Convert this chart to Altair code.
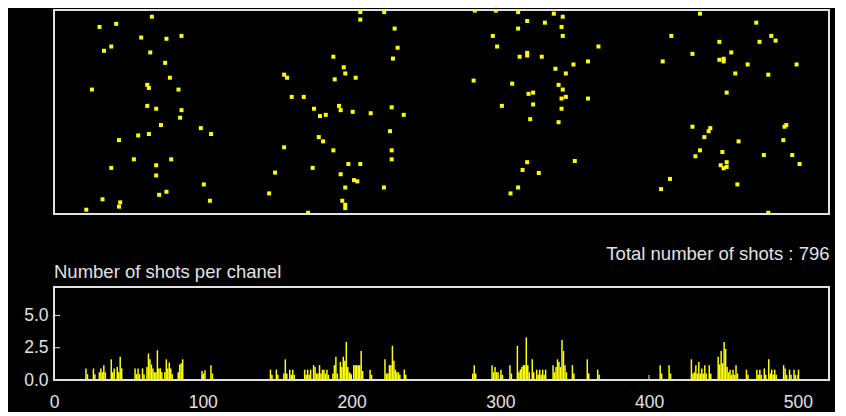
import altair as alt
import pandas as pd

# ---------------- data ----------------
shot_channel = [
    65.8, 30.6, 41.8, 58.6, 75.6, 85.7, 33.6, 38.5, 64.7, 74.7, 77.9, 25.5, 62.7, 63.8, 83.7,
    62.7, 68.7, 85.7, 84.8, 71.9, 98.7, 105.6, 43.7, 56.6, 63.8, 53.7, 78.8, 38.5, 68.7, 68.7,
    100.7, 75.6, 70.7, 32.6, 44.5, 43.7, 104.8, 21.7,
    154.7, 156.7, 159.8, 167.9, 174.8, 178.8, 182.7, 187.8, 188.7, 191.6, 178.0, 180.9, 187.8,
    154.7, 173.9, 148.6, 144.6, 170.8, 192.7, 205.9, 222.0, 205.9, 229.0, 231.0, 227.9, 194.8,
    195.8, 202.8, 192.7, 200.8, 212.9, 227.0, 235.1, 225.9, 227.0, 227.0, 197.9, 205.9, 201.7,
    203.9, 195.8, 221.8, 193.8, 195.8, 195.8,
    282.9, 297.0, 312.0, 336.0, 342.0, 318.1, 330.0, 312.0, 341.2, 295.0, 342.0, 297.9, 313.0,
    318.1, 318.1, 327.9, 349.2, 359.0, 337.1, 344.1, 282.1, 308.0, 339.2, 342.0, 319.0, 322.1,
    341.2, 344.1, 359.0, 301.1, 322.1, 341.2, 320.1, 339.2, 350.1, 318.1, 315.0, 325.9, 312.0,
    306.9,
    366.0, 434.3, 472.1, 415.0, 482.2, 485.1, 447.3, 474.3, 455.3, 429.2, 409.2, 447.3, 450.2,
    450.2, 466.3, 499.2, 458.0, 480.2, 452.2, 429.2, 441.2, 440.1, 492.3, 491.1, 437.2, 460.2,
    490.3, 434.3, 449.3, 477.2, 496.3, 431.2, 452.2, 448.2, 450.2, 452.2, 501.2, 414.1, 459.4,
    408.1, 480.2,
]
shot_value = [
    96.7, 91.7, 93.2, 86.5, 85.9, 87.3, 80.0, 82.1, 79.2, 74.1, 66.8, 61.0, 63.3, 61.8, 61.0,
    53.0, 51.6, 50.9, 47.2, 43.6, 42.1, 39.2, 36.2, 38.5, 39.2, 26.8, 26.8, 22.6, 23.9, 18.9,
    14.5, 10.9, 9.4, 7.2, 5.7, 3.6, 6.5, 2.1,
    68.3, 66.8, 57.4, 57.4, 51.6, 48.0, 48.6, 77.1, 66.0, 53.0, 37.7, 35.6, 31.2,
    32.7, 22.6, 20.3, 10.1, 0.6, 19.5, 99.0, 99.0, 95.3, 90.9, 81.5, 76.2, 71.9,
    68.9, 66.8, 50.9, 50.1, 49.4, 52.3, 48.6, 40.6, 31.2, 26.8, 24.5, 24.5, 16.6,
    16.0, 13.0, 13.0, 6.5, 4.5, 2.9,
    99.7, 99.7, 99.0, 98.2, 96.7, 94.6, 93.8, 90.9, 91.7, 87.3, 87.3, 82.1, 77.1,
    79.0, 77.7, 77.1, 73.3, 74.8, 71.2, 68.9, 65.4, 63.9, 63.3, 61.0, 58.9, 59.5,
    56.6, 57.4, 56.6, 53.0, 53.7, 51.6, 46.5, 45.0, 26.0, 25.4, 21.6, 20.1, 13.0,
    10.1,
    82.1, 98.2, 93.8, 87.3, 87.3, 85.0, 84.4, 84.4, 79.2, 78.5, 74.8, 75.6, 76.1,
    74.8, 73.3, 73.3, 68.9, 68.3, 59.5, 42.8, 42.1, 40.6, 43.6, 42.8, 37.7, 35.6,
    36.2, 31.2, 30.4, 28.9, 28.9, 28.3, 25.4, 23.9, 22.4, 23.1, 24.5, 17.2, 14.5,
    12.2, 0.6,
]

hist_channel = [
    21, 22, 26, 27, 30, 31, 32, 33, 34, 38, 39, 40, 42, 43, 44, 45, 54, 55, 56, 57, 59, 60,
    62, 63, 64, 65, 66, 67, 68, 69, 70, 71, 72, 74, 75, 76, 77, 78, 79, 83, 84, 85, 86,
    99, 100, 101, 105, 106,
    145, 146, 149, 150, 154, 155, 156, 158, 159, 160, 161, 168, 169, 170, 171, 172, 174, 175,
    176, 177, 178, 179, 180, 181, 182, 183, 184, 187, 188, 189, 190, 192, 193, 194, 195, 196,
    197, 198, 199, 201, 202, 203, 204, 205, 206, 207, 212, 213, 222, 223, 224, 225, 226, 227,
    228, 229, 230, 231, 232, 235, 236,
    281, 282, 283, 294, 295, 296, 297, 298, 300, 301, 306, 307, 311, 312, 313, 314, 315, 316,
    317, 318, 319, 321, 322, 324, 325, 326, 327, 328, 329, 330, 335, 336, 337, 338, 339, 340,
    341, 342, 343, 344, 348, 349, 358, 359, 365, 366,
    407, 408, 413, 414, 428, 429, 430, 431, 432, 433, 434, 435, 436, 437, 438, 440, 441, 446,
    447, 448, 449, 450, 451, 452, 453, 454, 455, 456, 457, 458, 459, 465, 466, 472, 473, 474,
    475, 477, 478, 480, 481, 482, 483, 484, 485, 490, 491, 492, 494, 495, 497, 498, 500,
]
hist_count = [
    0.9, 0.45, 0.9, 0.45, 0.6, 0.9, 0.6, 1.15, 0.6, 1.6, 0.6, 0.9, 1.0, 0.6, 1.8, 0.9, 0.9, 0.45, 0.9, 0.45, 0.9, 0.45,
    1.0, 2.05, 1.6, 1.2, 0.9, 0.6, 0.6, 2.3, 0.9, 0.9, 0.6, 0.6, 1.6, 0.9, 1.35, 0.9, 0.45, 0.6, 1.2, 1.3, 1.6,
    0.7, 0.5, 0.75, 1.15, 0.5,
    0.8, 0.4, 0.8, 0.4, 0.5, 1.6, 0.5, 0.8, 0.4, 0.8, 0.4, 0.8, 0.4, 0.8, 0.4, 0.8, 1.15, 1.0,
    0.5, 0.5, 1.15, 0.5, 0.8, 0.8, 0.5, 0.8, 0.4, 0.5, 1.15, 1.8, 0.5, 1.4, 1.0, 1.8, 1.5, 2.95,
    1.0, 0.6, 0.5, 1.15, 1.15, 1.15, 1.15, 1.15, 2.25, 0.7, 0.8, 0.4, 1.6, 0.5, 0.5, 1.15, 1.15, 2.65,
    1.5, 0.8, 0.6, 0.6, 0.4, 0.8, 0.4,
    0.5, 1.15, 0.5, 1.15, 0.6, 1.0, 0.6, 0.6, 0.8, 0.4, 1.15, 0.5, 2.65, 0.6, 0.8, 1.0, 1.15, 1.15,
    3.3, 1.15, 0.6, 1.6, 0.6, 0.8, 0.4, 0.8, 0.4, 0.8, 0.4, 0.8, 1.15, 0.6, 1.0, 1.6, 1.4, 1.0,
    3.1, 2.25, 1.15, 0.6, 1.15, 0.5, 1.6, 0.5, 0.8, 0.4,
    1.15, 0.5, 1.15, 0.5, 1.6, 0.5, 0.6, 1.15, 0.5, 1.4, 0.5, 0.9, 0.5, 1.15, 0.5, 1.15, 0.5, 1.8,
    1.2, 2.25, 1.3, 2.95, 2.4, 1.0, 0.6, 0.8, 0.4, 0.8, 0.4, 1.15, 0.5, 0.8, 0.4, 0.8, 0.4, 0.8,
    0.4, 0.9, 0.4, 1.6, 0.5, 0.8, 0.4, 0.8, 0.4, 1.15, 0.9, 0.4, 0.8, 0.4, 0.8, 0.4, 0.8,
]

x_tick_values = [0, 100, 200, 300, 400, 500]
y_tick_values = [0.0, 2.5, 5.0]
total_label = "Total number of shots : 796"
hist_title = "Number of shots per chanel"

# ---------------- styling ----------------
FONT = "Liberation Sans"
FG = "#E2E2E2"
YEL = "#FFFF00"
X_SCALE = alt.Scale(domain=[0, 521], nice=False, zero=False)
Y_SCALE = alt.Scale(domain=[0, 7.2], nice=False)
PANEL_W = 775
HIST_H = 93

shots = pd.DataFrame({"channel": shot_channel, "value": shot_value})
hist = pd.DataFrame({"channel": hist_channel, "count": hist_count})
xt = pd.DataFrame({"t": x_tick_values})
yt = pd.DataFrame({"t": y_tick_values})

top = alt.Chart(shots).mark_square(size=16, color=YEL, opacity=1, clip=True).encode(
    x=alt.X(
        "channel:Q",
        scale=X_SCALE,
        axis=alt.Axis(
            labels=False, ticks=False, domain=False, grid=False,
            title=total_label, titleAnchor="end", titlePadding=30,
            titleColor=FG, titleFont=FONT, titleFontSize=18.5, titleFontWeight="normal",
        ),
    ),
    y=alt.Y("value:Q", scale=alt.Scale(domain=[0, 100], nice=False), axis=None),
).properties(width=PANEL_W, height=204)

bars = alt.Chart(hist).transform_calculate(
    ch_end="datum.channel + 1"
).mark_bar(color=YEL).encode(
    x=alt.X(
        "channel:Q",
        scale=X_SCALE,
        axis=alt.Axis(
            values=x_tick_values, ticks=False, tickSize=0, domain=False, grid=False,
            labelPadding=13, labelFlush=False, labelColor=FG, labelFont=FONT,
            labelFontSize=17.5, title=None,
        ),
    ),
    x2="ch_end:Q",
    y=alt.Y(
        "count:Q",
        scale=Y_SCALE,
        axis=alt.Axis(
            values=y_tick_values, format=".1f", ticks=False, tickSize=0, domain=False,
            grid=False, labelPadding=6, labelFlush=False, labelColor=FG, labelFont=FONT,
            labelFontSize=17.5, title=None,
        ),
    ),
    y2=alt.datum(0),
)

x_ticks = alt.Chart(xt).mark_rule(color=FG, strokeWidth=1).encode(
    x=alt.X("t:Q", scale=X_SCALE),
    y=alt.value(HIST_H),
    y2=alt.value(HIST_H - 5),
)
y_ticks = alt.Chart(yt).mark_rule(color=FG, strokeWidth=1).encode(
    y=alt.Y("t:Q", scale=Y_SCALE),
    x=alt.value(0),
    x2=alt.value(6),
)

bottom = alt.layer(bars, x_ticks, y_ticks).properties(
    width=PANEL_W,
    height=HIST_H,
    title=alt.TitleParams(
        hist_title, anchor="start", frame="group", color=FG, font=FONT,
        fontSize=18.5, fontWeight="normal", offset=6,
    ),
)

chart = alt.vconcat(top, bottom, spacing=-3).properties(
    padding={"left": 14, "top": 1, "right": 5, "bottom": 0}
).configure(background="black").configure_view(stroke=FG, strokeWidth=2)

chart.save("out.html", embed_options={"renderer": "svg", "actions": False})
